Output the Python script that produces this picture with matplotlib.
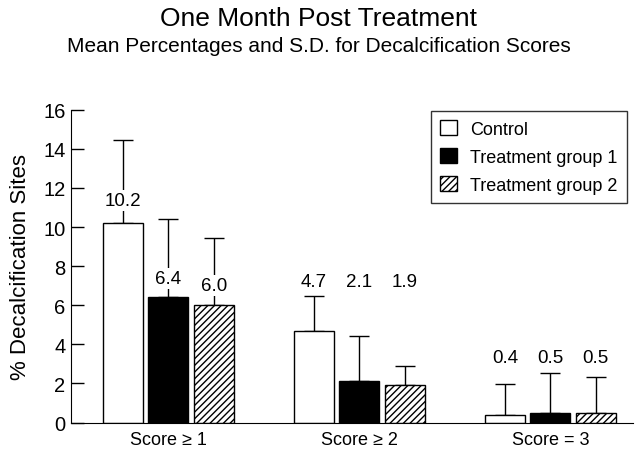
import numpy as np
import matplotlib.pyplot as plt
from matplotlib.patches import Patch

plt.rcParams['font.family'] = ['Liberation Sans', 'DejaVu Sans']

categories = ['Score \u2265 1', 'Score \u2265 2', 'Score = 3']
groups = ['Control', 'Treatment group 1', 'Treatment group 2']
means = [[10.2, 4.7, 0.4],   # control
         [6.4, 2.1, 0.5],    # treatment group 1
         [6.0, 1.9, 0.5]]    # treatment group 2
sds = [[4.25, 1.75, 1.55],
       [4.0, 2.35, 2.05],
       [3.45, 1.0, 1.85]]

# where the value labels sit (y, data units)
label_y = [[11.35, 7.2, 3.35],
           [7.35, 7.2, 3.35],
           [7.0, 7.2, 3.35]]

faces = ['white', 'black', 'white']
hatches = [None, None, '/////']

fig = plt.figure(figsize=(6.37, 4.52), dpi=100)
ax = fig.add_axes([0.1115, 0.063, 0.8815, 0.692])

x = np.arange(len(categories))
w = 0.21
step = 0.237
for i in range(3):
    xs = x + (i - 1) * step
    ax.bar(xs, means[i], w, color=faces[i], edgecolor='black',
           linewidth=1.0, hatch=hatches[i], zorder=2)
    ax.errorbar(xs, means[i], yerr=[np.zeros(3), sds[i]], fmt='none',
                ecolor='black', elinewidth=1.0, capsize=7.2,
                capthick=1.0, zorder=1)
    for xi, m, ly in zip(xs, means[i], label_y[i]):
        ax.text(xi, ly, f'{m:.1f}', ha='center', va='center', fontsize=13.5,
                zorder=3, bbox=dict(facecolor='white', edgecolor='none', pad=1.5))

ax.set_xlim(-0.51, 2.43)
ax.set_ylim(0, 16)
ax.set_yticks(range(0, 17, 2))
ax.tick_params(axis='y', direction='in', length=9, width=1, labelsize=14.5, pad=4)
ax.tick_params(axis='x', length=0, labelsize=13, pad=6)
ax.set_xticks(x)
ax.set_xticklabels(categories)
for s in ['top', 'right']:
    ax.spines[s].set_visible(False)
ax.set_ylabel('% Decalcification Sites', fontsize=16, labelpad=9)

handles = [Patch(facecolor=faces[i], edgecolor='black', hatch=hatches[i],
                 label=groups[i]) for i in range(3)]
leg = ax.legend(handles=handles, loc='upper right', bbox_to_anchor=(1.006, 1.026),
                fontsize=13, frameon=True, fancybox=False, edgecolor='black',
                handlelength=0.95, handleheight=0.95, handletextpad=0.75,
                labelspacing=0.55, borderpad=0.5)
leg.get_frame().set_linewidth(1.0)

fig.text(0.5, 0.958, 'One Month Post Treatment', ha='center', va='center',
         fontsize=19)
fig.text(0.5, 0.898, 'Mean Percentages and S.D. for Decalcification Scores',
         ha='center', va='center', fontsize=15)

fig.savefig('out.png', dpi=100)
